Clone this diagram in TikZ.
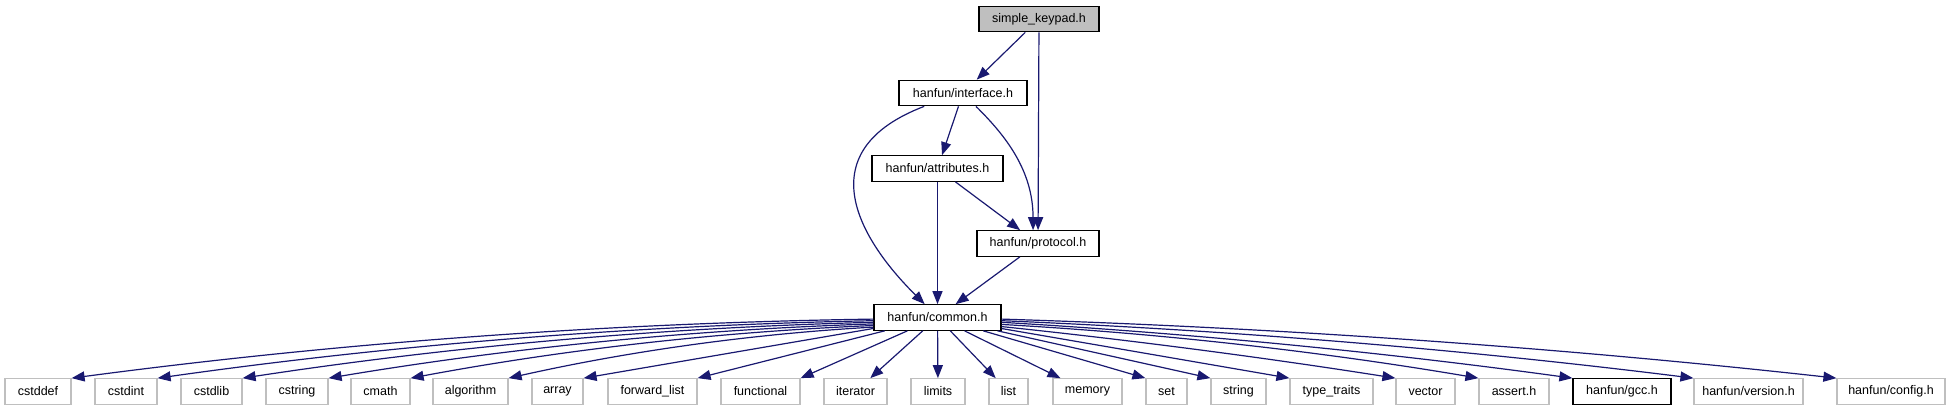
\documentclass[tikz,border=0pt]{standalone}
\usepackage{fontspec}
\setmainfont{Liberation Sans}
\usetikzlibrary{arrows.meta,calc}
\definecolor{edgeblue}{HTML}{191970}
\definecolor{leafgray}{HTML}{BFBFBF}
\newcommand\curveedge[3]{%
  \draw[edge] let \p1=(#1), \p2=(#2) in
   (\p1) .. controls ({\x1+(\x2-\x1)/3},{\y1+(\y2-\y1)*2*#3/3})
           and ({\x1+2*(\x2-\x1)/3},{\y1+(\y2-\y1)*(1+2*#3)/3}) .. (\p2);}
\begin{document}
\begin{tikzpicture}[x=1pt,y=-1pt,
  box/.style={draw=black, line width=1.2pt, minimum height=25.5pt, inner sep=0pt,
              font=\fontsize{12.5}{15}\selectfont, text=black},
  leaf/.style={box, draw=leafgray},
  root/.style={box, fill=leafgray},
  edge/.style={draw=edgeblue, line width=1.2pt, -{Triangle[length=13pt,width=10pt]}}]
\useasboundingbox (0,0) rectangle (1953,411);

% upper nodes
\node[root, minimum width=120pt] (keypad) at (1039,19) {simple\_keypad.h};
\node[box, minimum width=128pt] (interface) at (963,93) {hanfun/interface.h};
\node[box, minimum width=131pt] (attributes) at (937.5,168.5) {hanfun/attributes.h};
\node[box, minimum width=122pt] (protocol) at (1038,243.5) {hanfun/protocol.h};
\node[box, minimum width=127pt] (common) at (937.5,317.5) {hanfun/common.h};

% leaves
\node[leaf, minimum width=66pt] (cstddef) at (38,391.5) {cstddef};
\node[leaf, minimum width=62pt] (cstdint) at (126,391.5) {cstdint};
\node[leaf, minimum width=61pt] (cstdlib) at (211.5,391.5) {cstdlib};
\node[leaf, minimum width=62pt] (cstring) at (297,391.5) {cstring};
\node[leaf, minimum width=59pt] (cmath) at (380.5,391.5) {cmath};
\node[leaf, minimum width=75pt] (algorithm) at (470.5,391.5) {algorithm};
\node[leaf, minimum width=51pt] (array) at (557.5,391.5) {array};
\node[leaf, minimum width=89pt] (forwardlist) at (652.5,391.5) {forward\_list};
\node[leaf, minimum width=79pt] (functional) at (760.5,391.5) {functional};
\node[leaf, minimum width=63pt] (iterator) at (855.5,391.5) {iterator};
\node[leaf, minimum width=54pt] (limits) at (938,391.5) {limits};
\node[leaf, minimum width=39pt] (list) at (1008.5,391.5) {list};
\node[leaf, minimum width=69pt] (memory) at (1087.5,391.5) {memory};
\node[leaf, minimum width=41pt] (set) at (1166.5,391.5) {set};
\node[leaf, minimum width=55pt] (string) at (1238.5,391.5) {string};
\node[leaf, minimum width=83pt] (typetraits) at (1331.5,391.5) {type\_traits};
\node[leaf, minimum width=59pt] (vector) at (1425.5,391.5) {vector};
\node[leaf, minimum width=70pt] (assert) at (1514,391.5) {assert.h};
\node[box, minimum width=98pt] (gcc) at (1622,391.5) {hanfun/gcc.h};
\node[leaf, minimum width=109pt] (version) at (1748.5,391.5) {hanfun/version.h};
\node[leaf, minimum width=108pt] (config) at (1891,391.5) {hanfun/config.h};

% upper edges
\draw[edge] (keypad) -- (interface);
\draw[edge] (keypad) -- (protocol);
\draw[edge] (interface) -- (attributes);
\draw[edge] ($(interface.south west)!0.6!(interface.south east)$)
   .. controls (1005,135) and (1033,170) .. ($(protocol.north west)!0.46!(protocol.north east)$);
\draw[edge] ($(interface.south west)!0.2!(interface.south east)$)
   .. controls (810,150) and (855,235) .. ($(common.north west)!0.4!(common.north east)$);
\draw[edge] (attributes) -- (protocol);
\draw[edge] (attributes) -- (common);
\draw[edge] (protocol) -- (common);

% start points on common.h
\coordinate (l1) at ($(common.north west)!0.56!(common.south west)$);
\coordinate (l2) at ($(common.north west)!0.62!(common.south west)$);
\coordinate (l3) at ($(common.north west)!0.68!(common.south west)$);
\coordinate (l4) at ($(common.north west)!0.74!(common.south west)$);
\coordinate (l5) at ($(common.north west)!0.80!(common.south west)$);
\coordinate (l6) at ($(common.north west)!0.86!(common.south west)$);
\coordinate (r1) at ($(common.north east)!0.56!(common.south east)$);
\coordinate (r2) at ($(common.north east)!0.62!(common.south east)$);
\coordinate (r3) at ($(common.north east)!0.68!(common.south east)$);
\coordinate (r4) at ($(common.north east)!0.76!(common.south east)$);
\coordinate (r5) at ($(common.north east)!0.84!(common.south east)$);

% lower edges
\curveedge{l1}{cstddef.north east}{0.10}
\curveedge{l2}{cstdint.north east}{0.12}
\curveedge{l3}{cstdlib.north east}{0.14}
\curveedge{l4}{cstring.north east}{0.16}
\curveedge{l5}{cmath.north east}{0.18}
\curveedge{l6}{algorithm.north east}{0.20}
\draw[edge] (common) -- (array.north east);
\draw[edge] (common) -- (forwardlist.north east);
\draw[edge] (common) -- (functional.north east);
\draw[edge] (common) -- (iterator);
\draw[edge] (common) -- (limits);
\draw[edge] (common) -- (list);
\draw[edge] (common) -- (memory);
\draw[edge] (common) -- (set.north west);
\draw[edge] (common) -- (string.north west);
\draw[edge] (common) -- (typetraits.north west);
\curveedge{r5}{vector.north west}{0.40}
\curveedge{r4}{assert.north west}{0.25}
\curveedge{r3}{gcc.north west}{0.30}
\curveedge{r2}{version.north west}{0.25}
\curveedge{r1}{config.north west}{0.22}
\end{tikzpicture}
\end{document}
